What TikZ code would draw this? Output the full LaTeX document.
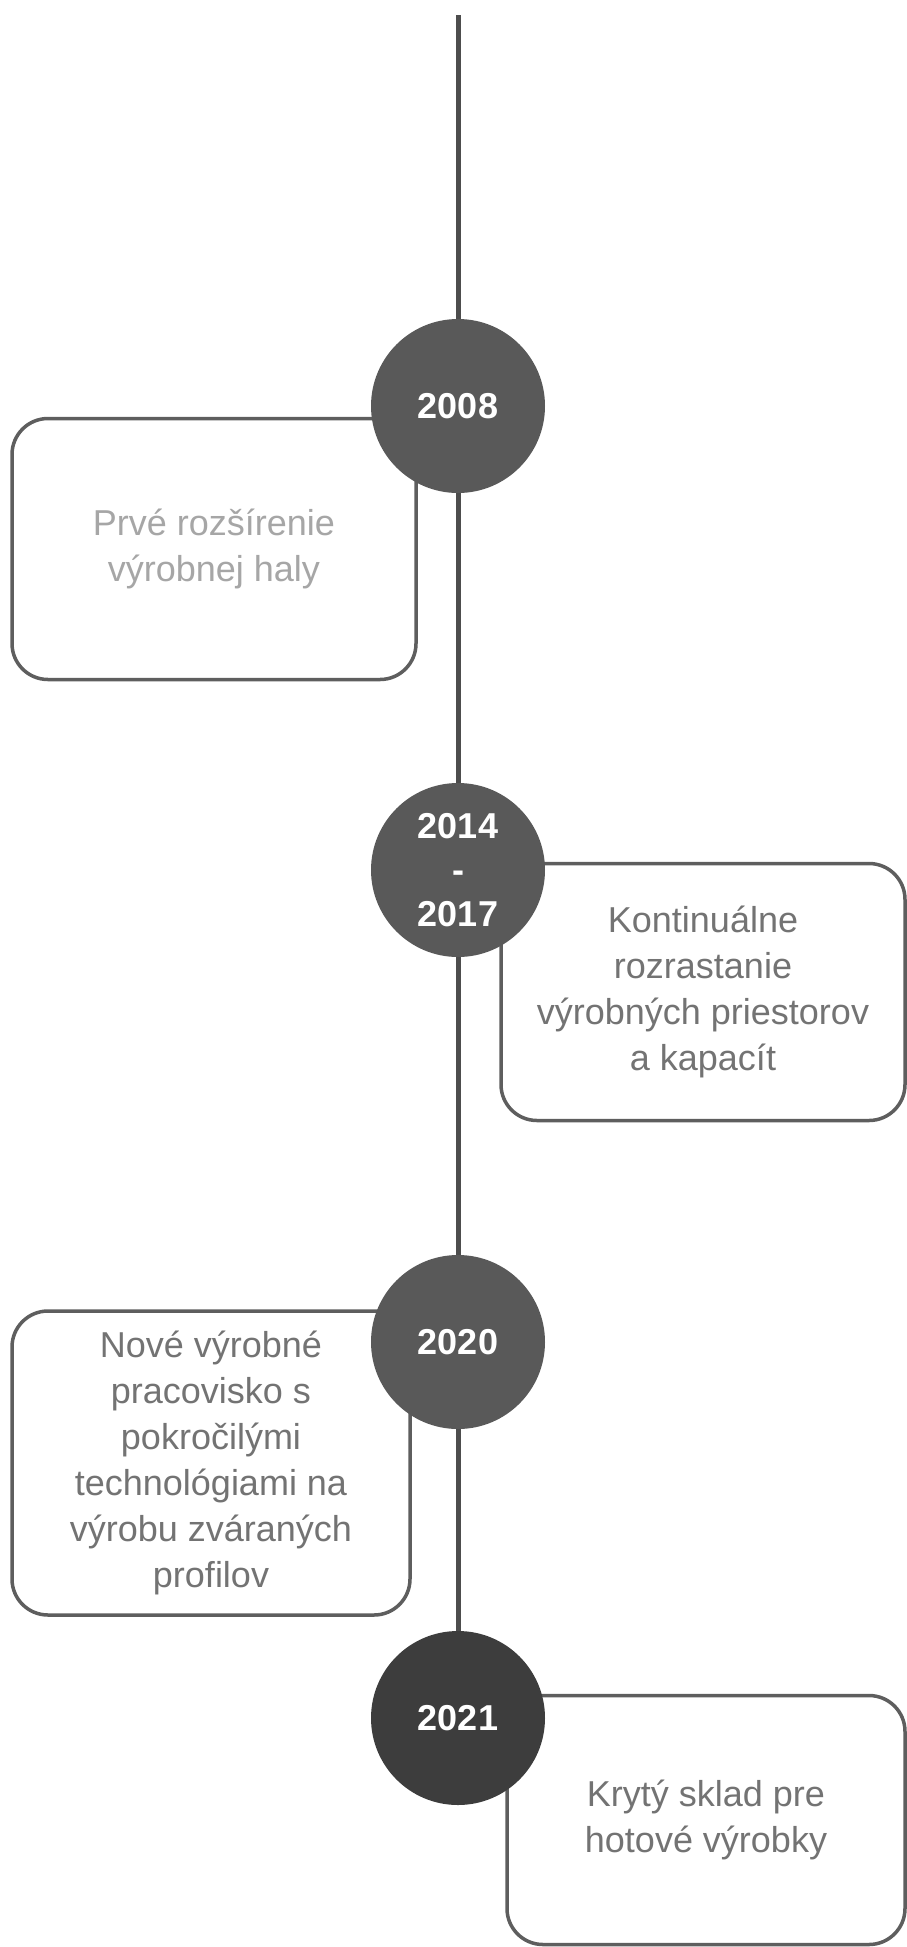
\documentclass[tikz,border=0pt]{standalone}
\usepackage{fontspec}
\setmainfont{Liberation Sans}
\usetikzlibrary{positioning}
\usetikzlibrary{backgrounds}
\definecolor{yeargray}{HTML}{595959}
\definecolor{yeardark}{HTML}{3D3D3D}
\definecolor{linegray}{HTML}{4D4D4D}
\definecolor{boxgray}{HTML}{5E5E5E}
\definecolor{textgray}{HTML}{737373}
\definecolor{faintgray}{HTML}{A6A6A6}
\newcommand{\yearfont}{\fontsize{36}{44}\selectfont\bfseries}
\newcommand{\eventfont}{\fontsize{36}{46}\selectfont}
\tikzset{
  timeline/.style={draw=linegray,line width=5pt},
  year/.style={circle,fill=yeargray,text=white,font=\yearfont,
    minimum size=174pt,inner sep=0pt,align=center},
  event/.style={rectangle,draw=boxgray,line width=3.5pt,fill=white,
    rounded corners=36pt,font=\eventfont,text=textgray,align=center,
    inner sep=0pt},
}

\begin{document}
\begin{tikzpicture}[x=1pt,y=-1pt]
  \useasboundingbox (0,0) rectangle (907,1947);
  % boxes first, circles cover their corners
  \node (ev2008) [event,text=faintgray,minimum width=404pt,minimum height=261pt]
    at (214,549) {Prvé rozšírenie\\výrobnej haly};
  \node (ev2014) [event,minimum width=404pt,minimum height=257pt]
    at (703,992) {Kontinuálne\\rozrastanie\\výrobných priestorov\\a kapacít};
  \node (ev2020) [event,minimum width=398pt,minimum height=304pt]
    at (211,1463) {Nové výrobné\\pracovisko s\\pokročilými\\technológiami na\\výrobu zváraných\\profilov};
  \node (ev2021) [event,minimum width=398pt,minimum height=249pt]
    at (706,1820) {Krytý sklad pre\\hotové výrobky};
  % years
  \node (y2008) [year] at (458,406) {2008};
  \node (y2014) [year] at (458,870) {2014\\-\\2017};
  \node (y2020) [year] at (458,1342) {2020};
  \node (y2021) [year,fill=yeardark] at (458,1718) {2021};
  \coordinate (top) at (458,15);
  \begin{scope}[on background layer]
    \draw[timeline] (top) -- (y2021);
  \end{scope}
\end{tikzpicture}
\end{document}
